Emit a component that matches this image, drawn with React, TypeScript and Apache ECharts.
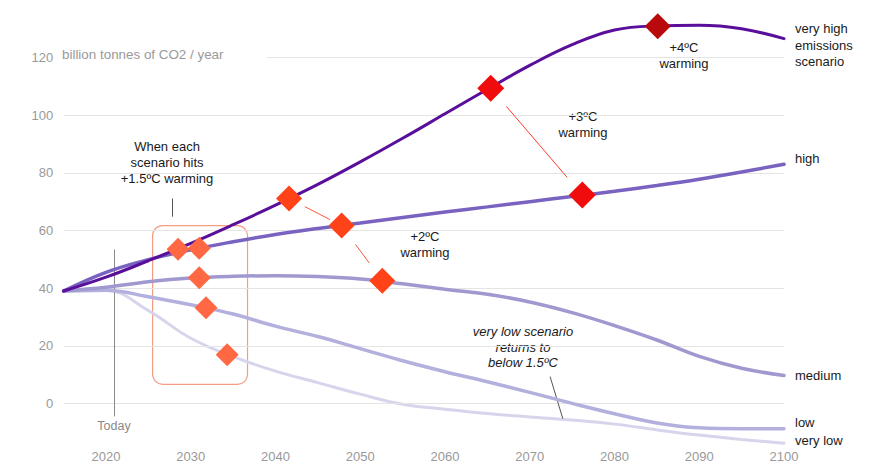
import React, { useEffect, useRef } from "react";
import * as echarts from "echarts";

const years = [2015, 2020, 2025, 2030, 2035, 2040, 2045, 2050, 2055, 2060, 2065, 2070, 2075, 2080, 2085, 2090, 2095, 2100];
const veryHigh = [39, 43.8, 49.5, 55.5, 62, 68.8, 76, 83.8, 92, 100.5, 109, 117.3, 124.5, 129.6, 131, 131.2, 130, 126.6];
const high = [39, 45.5, 49.9, 53.3, 56.1, 58.6, 60.7, 62.6, 64.5, 66.4, 68.2, 70, 71.8, 73.6, 75.6, 77.8, 80.3, 83];
const medium = [39, 40.3, 42.2, 43.5, 44.1, 44.3, 44, 43.2, 41.5, 39.6, 37.9, 35.2, 31.5, 27, 22, 16.3, 12.2, 9.7];
const low = [39, 39.3, 37, 34.2, 31, 26.8, 23.2, 19, 14.8, 11, 7.5, 3.8, 0, -3.6, -6.8, -8.5, -8.8, -8.8];
const veryLow = [39, 39.2, 32.2, 22.6, 16.2, 11.2, 7.2, 3.2, -0.3, -2, -3.5, -4.7, -5.8, -7.2, -9.2, -11, -12.5, -13.8];

const hit15 = [[2028.5, 53.5], [2031.0, 53.8], [2031.0, 43.6], [2031.8, 33.2], [2034.3, 16.9]];
const hit2 = [[2041.6, 71.1], [2047.8, 61.7], [2052.6, 42.6]];
const hit3 = [[2065.4, 109.4], [2076.2, 72.3]];
const hit4 = [[2085.1, 130.9]];

const gridValues = [0, 20, 40, 60, 80, 100, 120];
const xTicks = [2020, 2030, 2040, 2050, 2060, 2070, 2080, 2090, 2100];

const FONT = "'Liberation Sans', Arial, Helvetica, sans-serif";

function lerpSeg(a: number[], b: number[], t0: number, t1: number) {
  return [
    [a[0] + (b[0] - a[0]) * t0, a[1] + (b[1] - a[1]) * t0],
    [a[0] + (b[0] - a[0]) * t1, a[1] + (b[1] - a[1]) * t1],
  ];
}

export default function App() {
  const ref = useRef<HTMLDivElement>(null);
  useEffect(() => {
    if (!ref.current) return;
    const chart = echarts.init(ref.current, undefined, { renderer: "svg" });
    const zip = (vals: number[]) => years.map((y, i) => [y, vals[i]]);
    const lineSeries = (name: string, vals: number[], color: string, width: number, z: number) => ({
      name,
      type: "line",
      data: zip(vals),
      smooth: 0.4,
      symbol: "none",
      lineStyle: { color, width, cap: "round" },
      z,
      silent: true,
    });
    const gridLines = gridValues.map((v) => [
      { coord: [v === 120 ? 2039 : 2015, v] },
      { coord: [2100, v] },
    ]);
    const seg1 = lerpSeg(hit2[0], hit2[1], 0.3, 0.78);
    const seg2 = lerpSeg(hit2[1], hit2[2], 0.34, 0.68);
    const seg3 = lerpSeg(hit3[0], hit3[1], 0.17, 0.835);
    const connector = (s: number[][]) => [{ coord: s[0] }, { coord: s[1] }];
    const diamonds = (name: string, data: number[][], color: string, size: number) => ({
      name,
      type: "scatter",
      data,
      symbol: "diamond",
      symbolSize: size,
      itemStyle: { color, opacity: 1 },
      z: 10,
      clip: false,
      silent: true,
    });
    const text = (x: number, y: number, t: string, extra: any = {}) => ({
      type: "text",
      x,
      y,
      silent: true,
      style: {
        text: t,
        fontFamily: FONT,
        fontSize: 13,
        fill: "#1a1a1a",
        textAlign: "center",
        textVerticalAlign: "middle",
        lineHeight: 16.3,
        ...extra,
      },
    });
    const option: any = {
      animation: false,
      backgroundColor: "#ffffff",
      grid: { left: 21.25, right: 91, top: -3, bottom: 11, containLabel: false },
      xAxis: {
        type: "value",
        min: 2010,
        max: 2100,
        interval: 10,
        axisLine: { show: false },
        axisTick: { show: false },
        splitLine: { show: false },
        axisLabel: {
          margin: -11,
          color: "#999999",
          fontSize: 13,
          fontFamily: FONT,
          formatter: (v: number) => (xTicks.includes(v) ? String(v) : ""),
        },
      },
      yAxis: {
        type: "value",
        min: -20,
        max: 140,
        interval: 10,
        axisLine: { show: false },
        axisTick: { show: false },
        splitLine: { show: false },
        axisLabel: {
          margin: -32,
          color: "#999999",
          fontSize: 13,
          fontFamily: FONT,
          formatter: (v: number) => (gridValues.includes(v) ? String(v) : ""),
        },
      },
      series: [
        {
          name: "grid",
          type: "line",
          data: [],
          silent: true,
          z: 1,
          markLine: {
            silent: true,
            symbol: "none",
            label: { show: false },
            lineStyle: { color: "#e4e4e4", width: 1, type: "solid" },
            data: gridLines,
          },
        },
        {
          name: "annot",
          type: "line",
          data: [],
          silent: true,
          z: 3,
          markLine: {
            silent: true,
            symbol: "none",
            label: { show: false },
            data: [
              [{ coord: [2021, 53.4], lineStyle: { color: "#8a8a8a", width: 1, type: "solid" } }, { coord: [2021, -4.5] }],
              [{ coord: [2027.8, 71.1], lineStyle: { color: "#555", width: 1, type: "solid" } }, { coord: [2027.8, 64.8] }],
              [{ coord: [2072.4, 9.3], lineStyle: { color: "#555", width: 1, type: "solid" } }, { coord: [2073.9, -5.3] }],
              [{ ...connector(seg1)[0], lineStyle: { color: "#ff5a3a", width: 1, type: "solid" } }, connector(seg1)[1]],
              [{ ...connector(seg2)[0], lineStyle: { color: "#ff5a3a", width: 1, type: "solid" } }, connector(seg2)[1]],
              [{ ...connector(seg3)[0], lineStyle: { color: "#ff3a2a", width: 1, type: "solid" } }, connector(seg3)[1]],
            ],
          },
        },
        lineSeries("very low", veryLow, "#d7d5ec", 3, 4),
        lineSeries("low", low, "#b3b0de", 3.5, 5),
        lineSeries("medium", medium, "#a099cf", 3.5, 6),
        lineSeries("high", high, "#7a62c1", 3.5, 7),
        lineSeries("very high", veryHigh, "#5a0f9b", 3, 8),
        diamonds("+1.5", hit15, "#ff6842", 23),
        diamonds("+2", hit2, "#ff4218", 26),
        diamonds("+3", hit3, "#f00c0c", 27),
        diamonds("+4", hit4, "#b8090c", 26),
      ],
    };
    chart.setOption(option);
    const p1 = chart.convertToPixel({ gridIndex: 0 }, [2025.5, 61.7]) as number[];
    const p2 = chart.convertToPixel({ gridIndex: 0 }, [2036.7, 6.6]) as number[];
    chart.setOption({
      graphic: [
        {
          type: "rect",
          silent: true,
          z: 2,
          shape: { x: p1[0], y: p1[1], width: p2[0] - p1[0], height: p2[1] - p1[1], r: 10 },
          style: { fill: "none", stroke: "#f59c86", lineWidth: 1.2 },
        },
        text(62, 54.5, "billion tonnes of CO2 / year", { textAlign: "left", fill: "#999999", fontSize: 13.4 }),
        text(167, 162.5, "When each\nscenario hits\n+1.5ºC warming"),
        text(425, 244.7, "+2ºC\nwarming", { lineHeight: 16 }),
        text(583, 124, "+3ºC\nwarming", { lineHeight: 16 }),
        text(684, 55.7, "+4ºC\nwarming", { lineHeight: 16 }),
        text(523, 347, "very low scenario\nreturns to\nbelow 1.5ºC", { fontStyle: "italic", lineHeight: 15.7 }),
        text(795, 45, "very high\nemissions\nscenario", { textAlign: "left" }),
        text(795, 158, "high", { textAlign: "left" }),
        text(795, 375, "medium", { textAlign: "left" }),
        text(795, 422, "low", { textAlign: "left" }),
        text(795, 440, "very low", { textAlign: "left" }),
        text(114, 425.7, "Today", { fill: "#888888", fontSize: 12.5 }),
      ],
    });
    return () => chart.dispose();
  }, []);
  return (
    <div
      ref={ref}
      style={{ position: "fixed", left: 0, top: 0, width: 875, height: 472, background: "#fff" }}
    />
  );
}
